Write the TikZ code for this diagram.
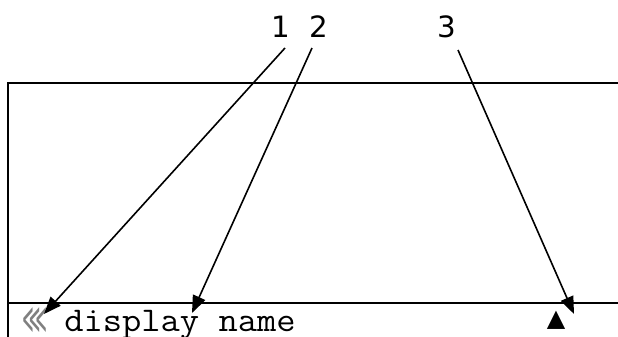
\documentclass[tikz,border=0pt]{standalone}
\usepackage{fontspec}
\setmainfont{DejaVu Sans}
\newfontfamily\symfont{DejaVu Sans}
\usetikzlibrary{arrows.meta}
\begin{document}
\begin{tikzpicture}[x=0.75pt,y=-0.75pt,
  frameline/.style={line width=1.8pt},
  callout/.style={line width=1.2pt,-{Triangle[length=13pt,width=10pt]}},
  lbl/.style={anchor=base,inner sep=0pt,font=\fontsize{22pt}{26pt}\selectfont},
  mono/.style={anchor=base west,inner sep=0pt,font=\ttfamily\fontsize{26pt}{30pt}\selectfont},
  sym/.style={inner sep=0pt,font=\symfont}]
\useasboundingbox (0,0) rectangle (618,336);
\clip (0,0) rectangle (618,336);
% frame
\coordinate (fbl) at (8,340);
\coordinate (ftl) at (8,83);
\coordinate (ftr) at (625,83);
\coordinate (fml) at (8,303);
\coordinate (fmr) at (625,303);
\draw[frameline] (fbl) -- (ftl) -- (ftr);
\draw[frameline] (fml) -- (fmr);
% labels
\node[lbl] (n1) at (281,37.5) {1};
\node[lbl] (n2) at (319,37.5) {2};
\node[lbl] (n3) at (447,37.5) {3};
% bottom row content
\node[sym,anchor=base west,text=gray,font=\symfont\fontsize{22pt}{26pt}\selectfont] (chev) at (22,333) {\scalebox{0.6}[1.45]{⋘}};
\node[mono] (dname) at (64,331) {\scalebox{1.08}[1]{display name}};
\node[sym,anchor=base,font=\symfont\fontsize{18pt}{20pt}\selectfont] (tri) at (556,326) {▲};
% callout ends
\coordinate (s1) at (285,48);
\coordinate (s2) at (312,48);
\coordinate (s3) at (458,50);
\coordinate (t1) at (44,314);
\coordinate (t2) at (192,313);
\coordinate (t3) at (574,314);
\draw[callout] (s1) -- (t1);
\draw[callout] (s2) -- (t2);
\draw[callout] (s3) -- (t3);
\end{tikzpicture}
\end{document}
